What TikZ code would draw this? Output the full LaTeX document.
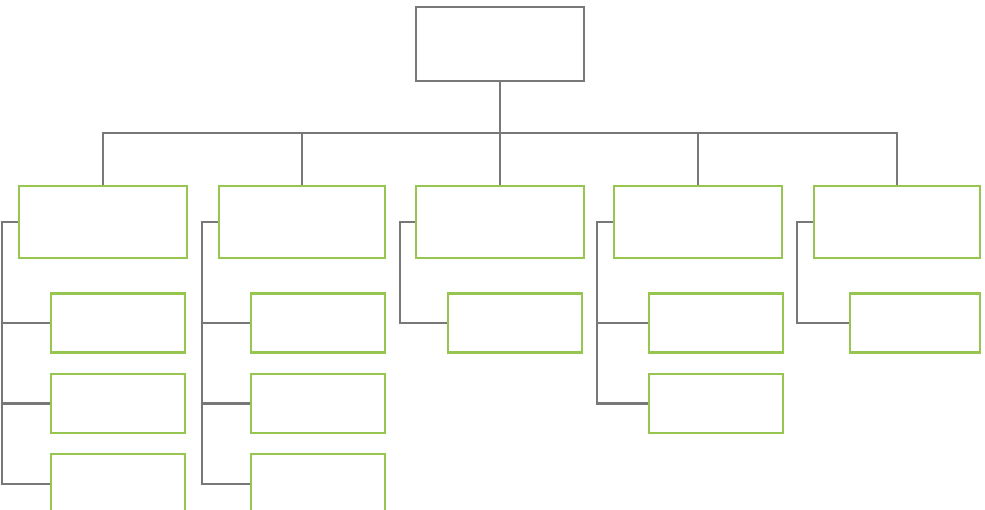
\documentclass[tikz,border=0pt]{standalone}
\usetikzlibrary{positioning}

\definecolor{linegray}{RGB}{120,120,120}
\definecolor{boxgreen}{RGB}{150,198,80}

\begin{document}
\begin{tikzpicture}[
  x=1pt, y=-1pt,
  node distance = 19pt and 32pt,
  base/.style = {
    rectangle,
    draw=#1,
    line width=2.4pt,
    fill=white,
    inner sep=0pt
  },
  top/.style = {base=linegray, minimum width=168pt, minimum height=74pt},
  unit/.style = {base=boxgreen, minimum width=168pt, minimum height=72pt},
  leaf/.style = {base=boxgreen, minimum width=134pt, minimum height=59pt},
  conn/.style = {linegray, line width=2.4pt},
  ]
  \useasboundingbox (0,0) rectangle (985,509);
  % head and the five units
  \node[top] (root) at (500,44) {};
  \coordinate (bus) at (0,133);
  \node[unit] (p1) at (103,222) {};
  \node[unit, minimum width=166pt] (p2) at (302,222) {};
  \node[unit] (p3) at (500,222) {};
  \node[unit] (p4) at (698,222) {};
  \node[unit, minimum width=166pt] (p5) at (897,222) {};
  % leaves
  \node[leaf, below right=33pt and 32pt of p1.south west] (c11) {};
  \node[leaf, below=of c11] (c12) {};
  \node[leaf, below=of c12] (c13) {};
  \node[leaf, below right=33pt and 32pt of p2.south west] (c21) {};
  \node[leaf, below=of c21] (c22) {};
  \node[leaf, below=of c22] (c23) {};
  \node[leaf, below right=33pt and 32pt of p3.south west] (c31) {};
  \node[leaf, below right=33pt and 35pt of p4.south west] (c41) {};
  \node[leaf, below=of c41] (c42) {};
  \node[leaf, minimum width=130pt, below right=33pt and 36pt of p5.south west] (c51) {};
  % tree lines
  \draw[conn] (root.south) -- (root.south |- bus);
  \draw[conn] (p1.north) -- (p1.north |- bus) -- (p5.north |- bus) -- (p5.north);
  \draw[conn] (p2.north) -- (p2.north |- bus);
  \draw[conn] (p3.north) -- (p3.north |- bus);
  \draw[conn] (p4.north) -- (p4.north |- bus);
  % brackets
  \coordinate (b1) at ([xshift=-16pt]p1.west);
  \coordinate (b2) at ([xshift=-16pt]p2.west);
  \coordinate (b3) at ([xshift=-15pt]p3.west);
  \coordinate (b4) at ([xshift=-16pt]p4.west);
  \coordinate (b5) at ([xshift=-16pt]p5.west);
  \draw[conn] (p1.west) -- (b1) |- (c13.west);
  \draw[conn] (c11.west) -- (c11.west -| b1);
  \draw[conn] (c12.west) -- (c12.west -| b1);
  \draw[conn] (p2.west) -- (b2) |- (c23.west);
  \draw[conn] (c21.west) -- (c21.west -| b2);
  \draw[conn] (c22.west) -- (c22.west -| b2);
  \draw[conn] (p3.west) -- (b3) |- (c31.west);
  \draw[conn] (p4.west) -- (b4) |- (c42.west);
  \draw[conn] (c41.west) -- (c41.west -| b4);
  \draw[conn] (p5.west) -- (b5) |- (c51.west);
\end{tikzpicture}
\end{document}
